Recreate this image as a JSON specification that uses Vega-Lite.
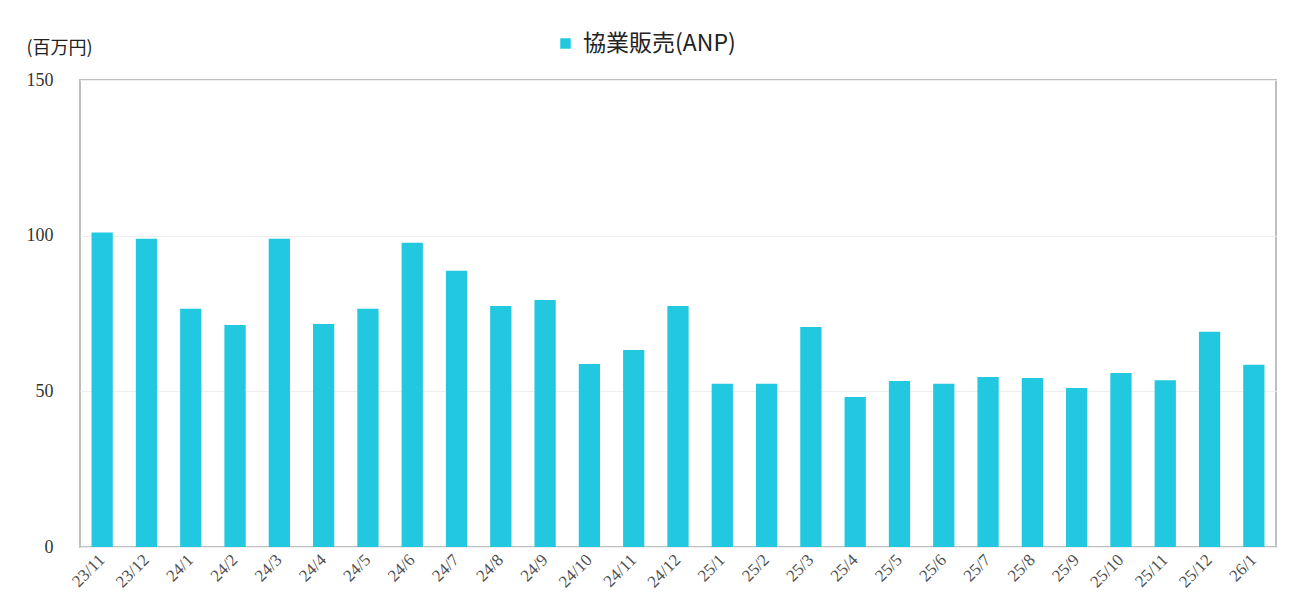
{
  "$schema": "https://vega.github.io/schema/vega-lite/v6.json",
  "autosize": {"type": "none"},
  "width": 1196,
  "height": 467,
  "padding": {"left": 80, "top": 80, "right": 14, "bottom": 68},
  "background": "white",
  "config": {
    "view": {"stroke": "#c0c0c0", "strokeWidth": 2},
    "font": "Noto Sans CJK JP"
  },
  "data": {
    "values": [
      {"month": "23/11", "value": 101, "series": "協業販売(ANP)"},
      {"month": "23/12", "value": 99, "series": "協業販売(ANP)"},
      {"month": "24/1", "value": 76.5, "series": "協業販売(ANP)"},
      {"month": "24/2", "value": 71.3, "series": "協業販売(ANP)"},
      {"month": "24/3", "value": 99, "series": "協業販売(ANP)"},
      {"month": "24/4", "value": 71.6, "series": "協業販売(ANP)"},
      {"month": "24/5", "value": 76.5, "series": "協業販売(ANP)"},
      {"month": "24/6", "value": 97.7, "series": "協業販売(ANP)"},
      {"month": "24/7", "value": 88.7, "series": "協業販売(ANP)"},
      {"month": "24/8", "value": 77.4, "series": "協業販売(ANP)"},
      {"month": "24/9", "value": 79.3, "series": "協業販売(ANP)"},
      {"month": "24/10", "value": 58.8, "series": "協業販売(ANP)"},
      {"month": "24/11", "value": 63.3, "series": "協業販売(ANP)"},
      {"month": "24/12", "value": 77.4, "series": "協業販売(ANP)"},
      {"month": "25/1", "value": 52.4, "series": "協業販売(ANP)"},
      {"month": "25/2", "value": 52.4, "series": "協業販売(ANP)"},
      {"month": "25/3", "value": 70.7, "series": "協業販売(ANP)"},
      {"month": "25/4", "value": 48.2, "series": "協業販売(ANP)"},
      {"month": "25/5", "value": 53.3, "series": "協業販売(ANP)"},
      {"month": "25/6", "value": 52.4, "series": "協業販売(ANP)"},
      {"month": "25/7", "value": 54.6, "series": "協業販売(ANP)"},
      {"month": "25/8", "value": 54.3, "series": "協業販売(ANP)"},
      {"month": "25/9", "value": 51.1, "series": "協業販売(ANP)"},
      {"month": "25/10", "value": 55.9, "series": "協業販売(ANP)"},
      {"month": "25/11", "value": 53.6, "series": "協業販売(ANP)"},
      {"month": "25/12", "value": 69.1, "series": "協業販売(ANP)"},
      {"month": "26/1", "value": 58.5, "series": "協業販売(ANP)"}
    ]
  },
  "mark": {"type": "bar"},
  "encoding": {
    "x": {
      "field": "month",
      "type": "nominal",
      "sort": null,
      "scale": {"paddingInner": 0.52, "paddingOuter": 0.26},
      "axis": {
        "title": null,
        "labelAngle": -45,
        "labelAlign": "right",
        "labelBaseline": "middle",
        "labelFont": "Liberation Serif",
        "labelFontSize": 17,
        "labelColor": "#505050",
        "labelPadding": 10,
        "ticks": false,
        "domain": false,
        "grid": false
      }
    },
    "y": {
      "field": "value",
      "type": "quantitative",
      "scale": {"domain": [0, 150], "nice": false},
      "axis": {
        "values": [0, 50, 100, 150],
        "title": "(百万円)",
        "titleAngle": 0,
        "titleAlign": "left",
        "titleBaseline": "middle",
        "titleX": -54,
        "titleY": -32,
        "titleFont": "Noto Sans CJK JP",
        "titleFontSize": 18,
        "titleFontWeight": "normal",
        "titleColor": "#222222",
        "labelFont": "Liberation Serif",
        "labelFontSize": 18,
        "labelColor": "#333333",
        "labelPadding": 27,
        "ticks": false,
        "domain": false,
        "grid": true,
        "gridColor": "#eeeeee",
        "gridWidth": 1
      }
    },
    "color": {
      "field": "series",
      "type": "nominal",
      "scale": {"range": ["#22C7E0"]},
      "legend": {
        "title": null,
        "orient": "none",
        "legendX": 474,
        "legendY": -48,
        "symbolType": "square",
        "symbolSize": 110,
        "labelFont": "Noto Sans CJK JP",
        "labelFontSize": 23,
        "labelColor": "#222222",
        "labelOffset": 6
      }
    }
  }
}
